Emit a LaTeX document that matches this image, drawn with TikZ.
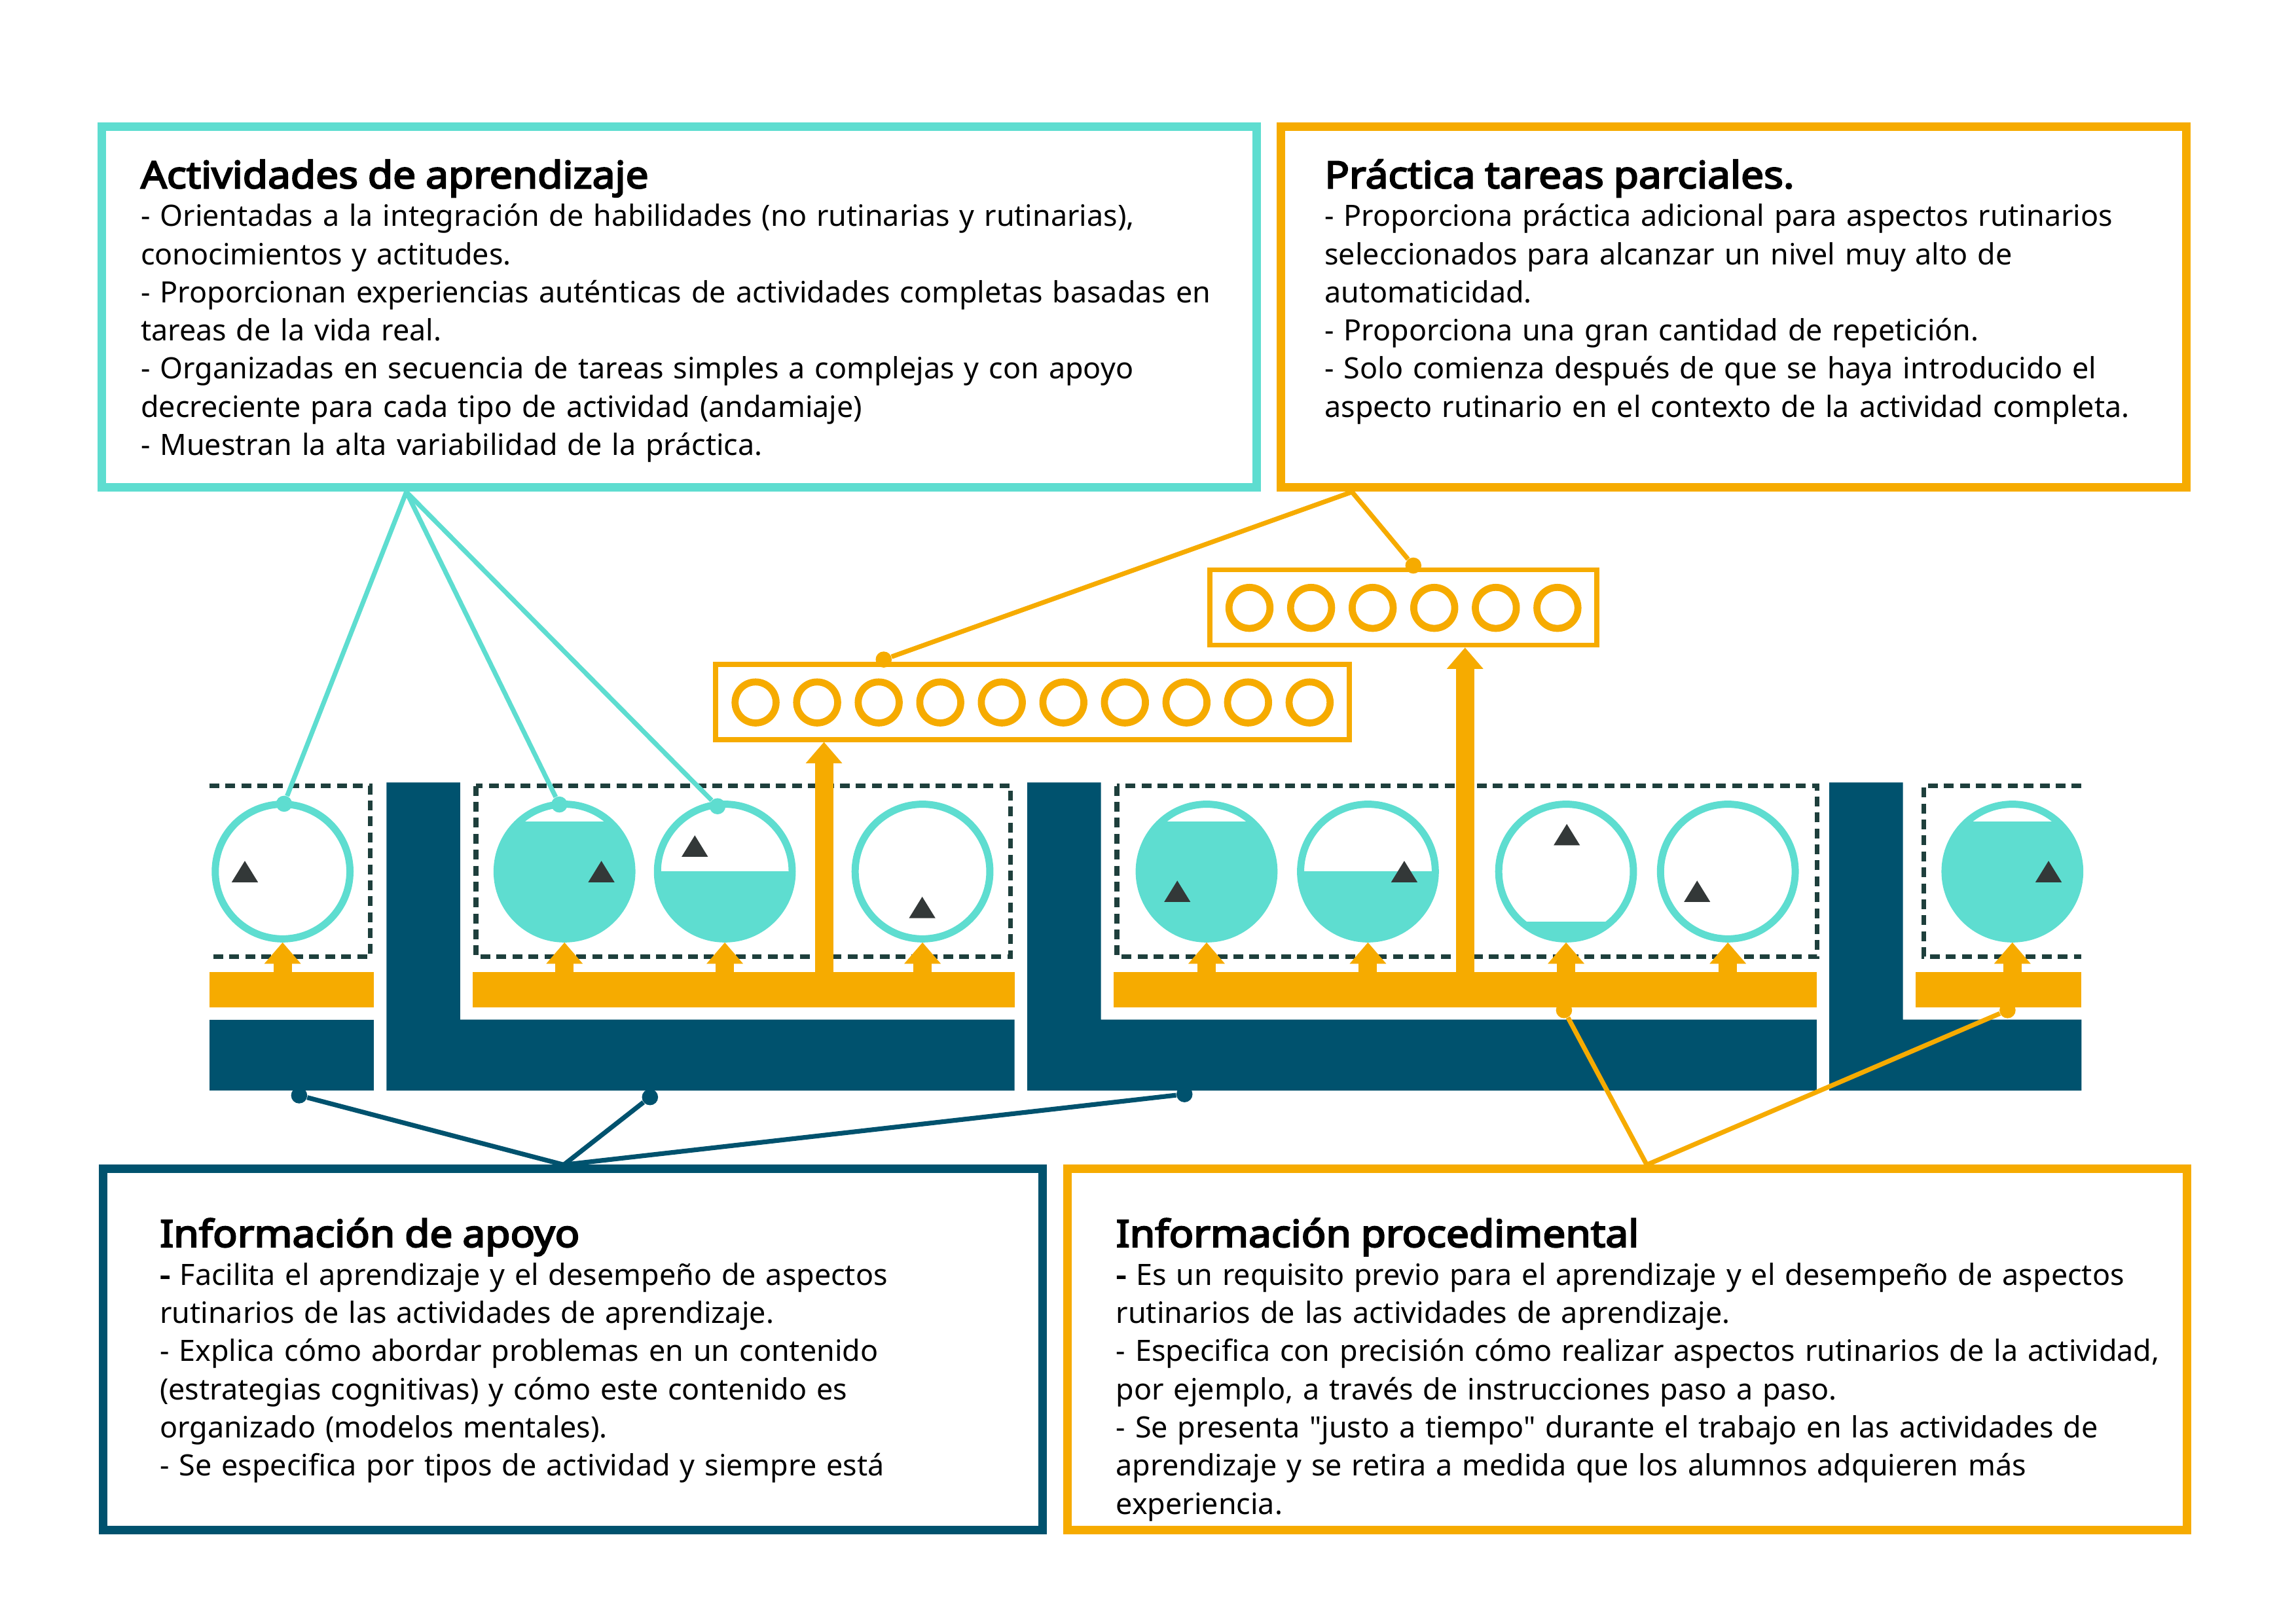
\documentclass[tikz,border=0pt]{standalone}
\usepackage{fontspec}
\setmainfont{Noto Sans}
\newfontfamily\headfam{Noto Sans}[FakeBold=4, FakeStretch=1.09]
\usetikzlibrary{arrows.meta}
\definecolor{Aqua}{RGB}{94,221,208}
\definecolor{Amber}{RGB}{246,171,0}
\definecolor{Petrol}{RGB}{0,82,110}
\definecolor{Pine}{RGB}{30,63,60}
\definecolor{Graphite}{RGB}{51,56,56}
\newcommand\paneltitle[1]{{\fontsize{25.5}{30}\headfam #1}}

\begin{document}
\begin{tikzpicture}[x=1pt, y=-1pt,
    panel/.style={draw=#1, line width=5.8pt, inner sep=0pt},
    blurb/.style={anchor=base west, inner sep=0pt, text width=800pt, align=left, font=\fontsize{20.05}{26.07}\selectfont},
    gauge/.style={circle, draw=Aqua, line width=4.9pt, minimum size=92pt, inner sep=0pt, fill=white},
    water/.style={path picture={\fill[Aqua] ([yshift=-#1]path picture bounding box.north west) rectangle (path picture bounding box.south east);}},
    slot/.style={circle, draw=Amber, line width=4.8pt, minimum size=28pt, inner sep=0pt},
    rowbox/.style={draw=Amber, line width=3.5pt, inner sep=0pt, minimum height=51.4pt},
    amberbar/.style={fill=Amber, inner sep=0pt, outer sep=0pt, minimum height=24.2pt},
    zone/.style={draw=Pine, line width=3.3pt, dash pattern=on 6.7pt off 4.2pt},
    feed/.style={draw=Amber, line width=12.5pt, -{Triangle[length=14.5pt, width=25pt, line width=0pt]}},
    dot/.style={circle, fill=#1, minimum size=11pt, inner sep=0pt},
    link/.style={draw=#1, line width=3.2pt}
  ]
  \useasboundingbox (0,0) rectangle (1568,1109);

  % text panels
  \node[panel=Aqua, minimum width=788.4pt, minimum height=246.5pt] (actbox) at (463.8,209.75) {};
  \node[panel=Amber, minimum width=618.4pt, minimum height=246.5pt] (pracbox) at (1183.8,209.75) {};
  \node[panel=Petrol, minimum width=641.4pt, minimum height=246.8pt] (apoyobox) at (391.1,921.9) {};
  \node[panel=Amber, minimum width=764.7pt, minimum height=246.8pt] (procbox) at (1111.15,921.9) {};

  \node[blurb] (acttext) at (96,128.5) {\paneltitle{Actividades de aprendizaje}\\
    - Orientadas a la integración de habilidades (no rutinarias y rutinarias),\\
    conocimientos y actitudes.\\
    - Proporcionan experiencias auténticas de actividades completas basadas en\\
    tareas de la vida real.\\
    - Organizadas en secuencia de tareas simples a complejas y con apoyo\\
    decreciente para cada tipo de actividad (andamiaje)\\
    - Muestran la alta variabilidad de la práctica.};
  \node[blurb] (practext) at (904.5,128.5) {\paneltitle{Práctica tareas parciales.}\\
    - Proporciona práctica adicional para aspectos rutinarios\\
    seleccionados para alcanzar un nivel muy alto de\\
    automaticidad.\\
    - Proporciona una gran cantidad de repetición.\\
    - Solo comienza después de que se haya introducido el\\
    aspecto rutinario en el contexto de la actividad completa.};
  \node[blurb] (apoyotext) at (109,851.7) {\paneltitle{Información de apoyo}\\
    {\headfam -} Facilita el aprendizaje y el desempeño de aspectos\\
    rutinarios de las actividades de aprendizaje.\\
    - Explica cómo abordar problemas en un contenido\\
    (estrategias cognitivas) y cómo este contenido es\\
    organizado (modelos mentales).\\
    - Se especifica por tipos de actividad y siempre está};
  \node[blurb] (proctext) at (762,851.7) {\paneltitle{Información procedimental}\\
    {\headfam -} Es un requisito previo para el aprendizaje y el desempeño de aspectos\\
    rutinarios de las actividades de aprendizaje.\\
    - Especifica con precisión cómo realizar aspectos rutinarios de la actividad,\\
    por ejemplo, a través de instrucciones paso a paso.\\
    - Se presenta \textquotedbl justo a tiempo\textquotedbl{} durante el trabajo en las actividades de\\
    aprendizaje y se retira a medida que los alumnos adquieren más\\
    experiencia.};

  % supportive layer
  \fill[Petrol] (143,696.4) rectangle (255.2,744.9);
  \foreach \a/\b in {264/692.8, 701.5/1240.6, 1249.3/1421.5}
    \fill[Petrol] (\a,534.4) -- (\a+50.3,534.4) -- (\a+50.3,696.4) -- (\b,696.4) -- (\b,744.9) -- (\a,744.9) -- cycle;

  % procedural layer
  \node[amberbar, minimum width=112.2pt] (bar1) at (199.1,676.1) {};
  \node[amberbar, minimum width=370.5pt] (bar2) at (507.95,676.1) {};
  \node[amberbar, minimum width=480pt] (bar3) at (1000.6,676.1) {};
  \node[amberbar, minimum width=113.5pt] (bar4) at (1364.75,676.1) {};

  % task classes
  \draw[zone] (143,536.8) -- (252.9,536.8) -- (252.9,653.5) -- (143,653.5);
  \draw[zone] (325,536.8) rectangle (690.2,653.5);
  \draw[zone] (762.8,536.8) rectangle (1241,653.5);
  \draw[zone] (1421.5,536.8) -- (1313.7,536.8) -- (1313.7,653.5) -- (1421.5,653.5);

  % learning tasks
  \node[gauge] (c1) at (193,595.3) {};
  \node[gauge, water=11.7pt] (c2) at (385.5,595.3) {};
  \node[gauge, water=46pt] (c3) at (495,595.3) {};
  \node[gauge] (c4) at (630,595.3) {};
  \node[gauge, water=11.7pt] (c5) at (824,595.3) {};
  \node[gauge, water=46pt] (c6) at (934.2,595.3) {};
  \node[gauge, water=80.3pt] (c7) at (1069.5,595.3) {};
  \node[gauge] (c8) at (1180,595.3) {};
  \node[gauge, water=11.7pt] (c9) at (1374.3,595.3) {};
  \foreach \x/\y in {167.2/588, 410.7/588, 474.5/570.6, 629.8/612.5, 804/601.5, 959/588, 1070/562.8, 1159/601.5, 1399/588}
    \fill[Graphite] (\x,\y) -- ++(9,14.6) -- ++(-18,0) -- cycle;

  \foreach \c/\b in {c1/bar1, c2/bar2, c3/bar2, c4/bar2, c5/bar3, c6/bar3, c7/bar3, c8/bar3, c9/bar4}
    \draw[feed] (\c |- \b.north) -- (\c.south);

  % part-task practice
  \node[rowbox, minimum width=432.8pt] (rowA) at (705,479.4) {};
  \node[rowbox, minimum width=264.3pt] (rowB) at (958.45,414.9) {};
  \foreach \k in {0,...,9}
    \node[slot] (a\k) at (516+42.04*\k,479.8) {};
  \foreach \k in {0,...,5}
    \node[slot] (b\k) at (853.3+42.06*\k,415.2) {};
  \coordinate (liftA) at (562.7,664);
  \coordinate (liftB) at (1000.5,664);
  \draw[feed] (liftA) -- (liftA |- rowA.south);
  \draw[feed] (liftB) -- (liftB |- rowB.south);

  % connectors
  \coordinate (actfoot) at (277.5,336);
  \coordinate (pracfoot) at (923.3,336);
  \coordinate (apoyohead) at (385,795.6);
  \coordinate (prochead) at (1124.6,795.6);
  \node[dot=Aqua] (p1) at (194,549) {};
  \node[dot=Aqua] (p2) at (382,549.5) {};
  \node[dot=Aqua] (p3) at (490,550.7) {};
  \node[dot=Amber] (q1) at (603.5,450.5) {};
  \node[dot=Amber] (q2) at (965.2,386.3) {};
  \node[dot=Petrol] (s1) at (204.3,748.2) {};
  \node[dot=Petrol] (s2) at (443.9,749.4) {};
  \node[dot=Petrol] (s3) at (808.9,747.4) {};
  \node[dot=Amber] (r1) at (1068.1,690) {};
  \node[dot=Amber] (r2) at (1371,690) {};
  \draw[link=Aqua] (actfoot) -- (p1);
  \draw[link=Aqua] (actfoot) -- (p2);
  \draw[link=Aqua] (actfoot) -- (p3);
  \draw[link=Amber] (pracfoot) -- (q1);
  \draw[link=Amber] (pracfoot) -- (q2);
  \draw[link=Petrol] (apoyohead) -- (s1);
  \draw[link=Petrol] (apoyohead) -- (s2);
  \draw[link=Petrol] (apoyohead) -- (s3);
  \draw[link=Amber] (prochead) -- (r1);
  \draw[link=Amber] (prochead) -- (r2);
\end{tikzpicture}
\end{document}
